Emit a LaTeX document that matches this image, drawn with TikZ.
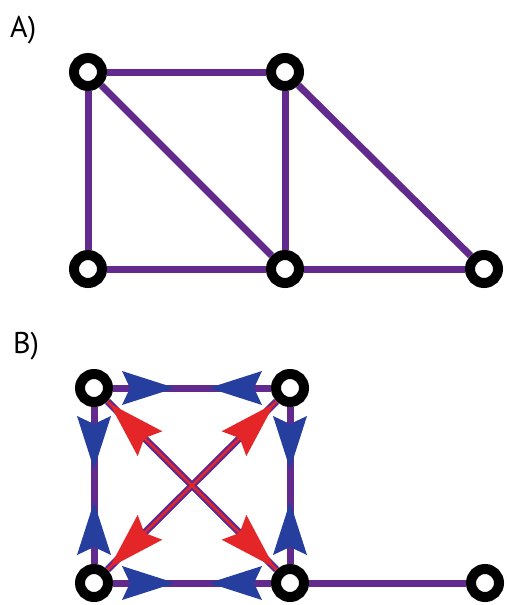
\documentclass[tikz,border=0pt]{standalone}
\usepackage{fontspec}
\setmainfont{PT Sans}
\usepackage{tikz}
\usetikzlibrary{calc}
\definecolor{edgepurple}{RGB}{98,42,140}
\definecolor{headblue}{RGB}{38,62,158}
\definecolor{headred}{RGB}{228,38,40}

\begin{document}
\begin{tikzpicture}[
    x=1pt, y=-1pt,
    vert/.style={circle, draw=black, line width=10pt, fill=white, minimum size=28pt, inner sep=0pt},
    edge/.style={draw=edgepurple, line width=7pt},
    redline/.style={draw=headred, line width=2.5pt},
    bluehead/.style={fill=headblue},
    redhead/.style={fill=headred},
    panellab/.style={font=\fontsize{30}{36}\selectfont, anchor=base west, inner sep=0pt},
]
\useasboundingbox (0,0) rectangle (506,605);

% Panel A
\node[panellab] (labA) at (10,37) {A)};
\node[vert] (a1) at (88,72) {};
\node[vert] (a2) at (285,72) {};
\node[vert] (a3) at (88,269) {};
\node[vert] (a4) at (285,269) {};
\node[vert] (a5) at (484,269) {};
\draw[edge] (a1) -- (a2);
\draw[edge] (a1) -- (a3);
\draw[edge] (a1) -- (a4);
\draw[edge] (a2) -- (a4);
\draw[edge] (a2) -- (a5);
\draw[edge] (a3) -- (a4);
\draw[edge] (a4) -- (a5);

% Panel B
\node[panellab] (labB) at (13,353) {B)};
\node[vert] (b1) at (94,388) {};
\node[vert] (b2) at (290,388) {};
\node[vert] (b3) at (94,583) {};
\node[vert] (b4) at (290,583) {};
\node[vert] (b5) at (485,583) {};
\draw[edge] (b1) -- (b2);
\draw[edge] (b1) -- (b3);
\draw[edge] (b2) -- (b4);
\draw[edge] (b3) -- (b4);
\draw[edge] (b4) -- (b5);

% Diagonals (purple with red core)
\draw[edge] (b1) -- (b4);
\draw[edge] (b2) -- (b3);
\draw[redline] (b1) -- (b4);
\draw[redline] (b2) -- (b3);

% Blue heads on the square sides (back at 28, tip at 81)
\foreach \s/\t in {b1/b2, b2/b1, b1/b3, b3/b1, b2/b4, b4/b2, b3/b4, b4/b3}
    \fill[bluehead] ($(\s)!81pt!(\t)$) -- ($(\s)!28pt!(\t)!17pt!90:(\t)$)
        -- ($(\s)!36pt!(\t)$) -- ($(\s)!28pt!(\t)!17pt!-90:(\t)$) -- cycle;

% Red heads on the diagonals (tip at 22, back at 79)
\foreach \s/\t in {b1/b4, b4/b1, b2/b3, b3/b2}
    \fill[redhead] ($(\s)!22pt!(\t)$) -- ($(\s)!79pt!(\t)!17.5pt!90:(\s)$)
        -- ($(\s)!71pt!(\t)$) -- ($(\s)!79pt!(\t)!17.5pt!-90:(\s)$) -- cycle;
\end{tikzpicture}
\end{document}
